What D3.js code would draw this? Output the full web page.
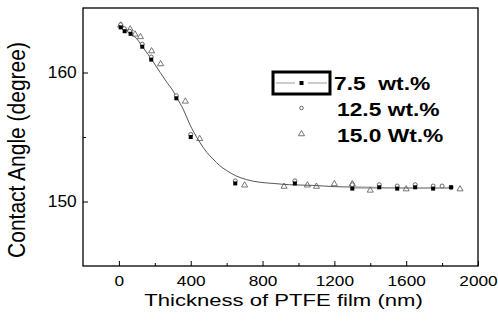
<!DOCTYPE html>
<html><head><meta charset="utf-8">
<script src="https://cdn.jsdelivr.net/npm/d3@7"></script>
<style>
html,body{margin:0;padding:0;background:#fff;}
svg{display:block;}
text{font-family:"Liberation Sans",Arial,sans-serif;fill:#000;}
</style></head>
<body>
<svg id="chart" width="498" height="322"></svg>
<script>
// ---- data ----
const seriesNames = ["7.5  wt.%", "12.5 wt.%", "15.0 Wt.%"];
const x75 = [10, 32, 65, 130, 180, 320, 400, 648, 980, 1300, 1450, 1550, 1650, 1750, 1850];
const y75 = [163.5, 163.2, 163.0, 162.0, 161.0, 158.0, 155.0, 151.4, 151.4, 151.0, 151.1, 151.0, 151.1, 151.0, 151.1];
const x125 = [10, 30, 60, 130, 180, 320, 400, 648, 980, 1300, 1450, 1550, 1650, 1750, 1800, 1850];
const y125 = [163.7, 163.4, 163.2, 162.2, 161.2, 158.2, 155.2, 151.6, 151.6, 151.3, 151.3, 151.2, 151.3, 151.2, 151.2, 151.1];
const x150 = [10, 63, 90, 120, 182, 232, 370, 450, 700, 920, 1050, 1100, 1200, 1300, 1400, 1600, 1900];
const y150 = [163.7, 163.4, 163.0, 162.8, 161.7, 160.7, 157.8, 154.9, 151.3, 151.2, 151.3, 151.2, 151.4, 151.4, 150.9, 151.0, 151.0];
const fitX = [0, 30, 60, 100, 134, 190, 230, 264, 300, 320, 360, 394, 420, 450, 490, 524, 560, 600, 650, 710, 780, 860, 950, 1080, 1200, 1400, 1600, 1850];
const fitY = [163.65, 163.4, 163.05, 162.6, 161.95, 160.85, 160.0, 159.3, 158.6, 158.1, 157.1, 156.0, 155.3, 154.6, 153.8, 153.3, 152.8, 152.4, 152.0, 151.7, 151.5, 151.4, 151.3, 151.25, 151.15, 151.1, 151.05, 151.05];
const xTicks = [0, 400, 800, 1200, 1600, 2000];
const xMinor = [200, 600, 1000, 1400, 1800];
const yTicks = [150, 160];
const yMinor = [155];
const xTitle = "Thickness of PTFE film (nm)";
const yTitle = "Contact Angle (degree)";

// ---- layout ----
const L = 83, R = 478, T = 8, B = 266;
const svg = d3.select("#chart");
const x = d3.scaleLinear().domain([-200, 2000]).range([L, R]);
const y = d3.scaleLinear().domain([145, 165]).range([B, T]);

// frame
svg.append("rect").attr("x", L).attr("y", T).attr("width", R - L).attr("height", B - T)
  .attr("fill", "none").attr("stroke", "#000").attr("stroke-width", 1.3);

// axes (inward ticks)
const gx = svg.append("g").attr("transform", `translate(0,${B})`);
gx.call(d3.axisBottom(x).tickValues(xTicks).tickSize(-5).tickPadding(9).tickFormat(d3.format("d")));
const gxm = svg.append("g").attr("transform", `translate(0,${B})`);
gxm.call(d3.axisBottom(x).tickValues(xMinor).tickSize(-3).tickFormat(""));
const gy = svg.append("g").attr("transform", `translate(${L},0)`);
gy.call(d3.axisLeft(y).tickValues(yTicks).tickSize(-5).tickPadding(6).tickFormat(d3.format("d")));
const gym = svg.append("g").attr("transform", `translate(${L},0)`);
gym.call(d3.axisLeft(y).tickValues(yMinor).tickSize(-3).tickFormat(""));
svg.selectAll(".domain").remove();
svg.selectAll(".tick line").attr("stroke", "#000").attr("stroke-width", 1);
gx.selectAll(".tick text").attr("font-size", 15).attr("font-family", "Liberation Sans, Arial, sans-serif")
  .attr("fill", "#000").attr("dy", "0.71em").attr("transform", "scale(1.15,1)");
gy.selectAll(".tick text").attr("font-size", 16.5).attr("font-family", "Liberation Sans, Arial, sans-serif")
  .attr("fill", "#000").attr("x", -6).attr("transform", "scale(1.05,1)");

// titles
svg.append("text").attr("x", 0).attr("y", 0)
  .attr("transform", `translate(283.5,305.5) scale(1.3,1)`)
  .attr("text-anchor", "middle").attr("font-size", 17).text(xTitle);
svg.append("text").attr("x", 0).attr("y", 0)
  .attr("transform", `translate(25,150) scale(1.1,1) rotate(-90)`)
  .attr("text-anchor", "middle").attr("font-size", 21).text(yTitle);

// fit curve
const fitData = fitX.map((v, i) => [v, fitY[i]]);
svg.append("path").datum(fitData)
  .attr("fill", "none").attr("stroke", "#555").attr("stroke-width", 1)
  .attr("d", d3.line().x(d => x(d[0])).y(d => y(d[1])).curve(d3.curveMonotoneX));
// plateau line of 7.5 series (gray)
const plat = x75.map((v, i) => [v, y75[i]]).filter(d => d[0] >= 1300);
svg.append("path").datum(plat)
  .attr("fill", "none").attr("stroke", "#aaa").attr("stroke-width", 1.5)
  .attr("d", d3.line().x(d => x(d[0])).y(d => y(151.05)));

// markers
const triSym = d3.symbol().type(d3.symbolTriangle).size(16);
svg.append("g").selectAll("path").data(x150.map((v, i) => [v, y150[i]])).join("path")
  .attr("d", triSym).attr("transform", d => `translate(${x(d[0])},${y(d[1]) + 0.5})`)
  .attr("fill", "none").attr("stroke", "#555").attr("stroke-width", 0.8);
svg.append("g").selectAll("circle").data(x125.map((v, i) => [v, y125[i]])).join("circle")
  .attr("cx", d => x(d[0])).attr("cy", d => y(d[1])).attr("r", 2)
  .attr("fill", "#fff").attr("stroke", "#444").attr("stroke-width", 0.8);
svg.append("g").selectAll("rect").data(x75.map((v, i) => [v, y75[i]])).join("rect")
  .attr("x", d => x(d[0]) - 2).attr("y", d => y(d[1]) - 2).attr("width", 4).attr("height", 4)
  .attr("fill", "#000");

// legend
const lg = svg.append("g");
lg.append("rect").attr("x", 273).attr("y", 72).attr("width", 57).attr("height", 22)
  .attr("fill", "#fff").attr("stroke", "#000").attr("stroke-width", 3);
lg.append("line").attr("x1", 276).attr("x2", 295).attr("y1", 83).attr("y2", 83).attr("stroke", "#aaa").attr("stroke-width", 1.2);
lg.append("line").attr("x1", 308).attr("x2", 327).attr("y1", 83).attr("y2", 83).attr("stroke", "#aaa").attr("stroke-width", 1.2);
lg.append("rect").attr("x", 299.5).attr("y", 81).attr("width", 4).attr("height", 4).attr("fill", "#000");
lg.append("circle").attr("cx", 301.5).attr("cy", 108).attr("r", 1.8).attr("fill", "#fff").attr("stroke", "#444").attr("stroke-width", 0.8);
lg.append("path").attr("d", triSym).attr("transform", "translate(301.5,134)").attr("fill", "none").attr("stroke", "#555").attr("stroke-width", 0.8);
const ly = [89.5, 115.5, 141.5], lx = [334, 337, 337];
seriesNames.forEach((n, i) => {
  lg.append("text").attr("x", 0).attr("y", 0)
    .attr("transform", `translate(${lx[i]},${ly[i]}) scale(1.2,1)`)
    .attr("font-size", 19).attr("font-weight", "bold").style("white-space", "pre").text(n);
});
</script>
</body></html>
